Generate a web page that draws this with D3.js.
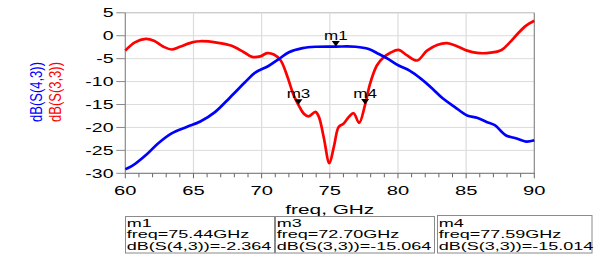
<!DOCTYPE html>
<html><head><meta charset="utf-8">
<script src="https://cdn.jsdelivr.net/npm/d3@7"></script>
<style>body{margin:0;background:#fff}svg{display:block}text{font-family:"Liberation Sans",Arial,sans-serif}</style>
</head><body>
<svg id="c" width="608" height="263"></svg>
<script>
// ---- data ----
const s43Freq = [60.0,60.5,61.6,62.4,63.4,64.5,65.5,66.6,67.7,68.8,69.5,70.5,71.25,72.0,73.0,74.0,75.44,76.9,77.85,78.6,79.3,80.05,80.85,81.7,82.55,83.3,84.15,85.07,85.8,86.5,87.1,87.9,88.7,89.4,90.0];
const s43dB   = [-29.1,-28.4,-25.8,-23.5,-21.3,-19.9,-18.7,-16.6,-13.4,-10.1,-8.1,-6.6,-5.1,-3.6,-2.7,-2.4,-2.364,-2.4,-2.9,-4.0,-5.1,-6.5,-7.6,-9.4,-11.6,-13.7,-15.5,-17.4,-17.9,-18.8,-19.5,-21.7,-22.4,-23.1,-22.8];
const s33Freq = [60.0,60.7,61.5,62.1,62.8,63.4,64.0,64.9,65.5,66.7,67.8,68.7,69.3,69.9,70.4,70.9,71.4,71.9,72.35,72.7,73.1,73.45,73.95,74.2,74.55,74.97,75.3,75.65,76.0,76.4,76.75,77.15,77.59,77.95,78.45,78.95,79.45,80.05,80.67,81.4,82.13,82.87,83.6,84.33,85.07,85.8,86.8,87.6,88.2,88.8,89.4,90.0];
const s33dB   = [-3.25,-1.45,-0.7,-1.1,-2.4,-3.0,-2.4,-1.45,-1.2,-1.5,-2.2,-3.6,-4.6,-4.5,-3.8,-4.1,-5.4,-9.0,-13.0,-15.064,-17.0,-17.6,-16.6,-17.7,-22.1,-27.8,-24.2,-19.9,-19.2,-17.7,-16.9,-19.0,-15.014,-10.5,-6.5,-4.7,-3.7,-3.1,-4.3,-5.4,-3.25,-2.0,-1.6,-2.3,-3.25,-3.75,-3.7,-3.1,-1.45,0.5,2.2,3.25];
const xTicks = [60,65,70,75,80,85,90];
const yTicks = [5,0,-5,-10,-15,-20,-25,-30];
const markerNames = ["m1","m3","m4"];
const markerFreq  = [75.44,72.70,77.59];
const markerVal   = [-2.364,-15.064,-15.014];
const markerTrace = ["dB(S(4,3))","dB(S(3,3))","dB(S(3,3))"];
const markerFreqText = ["75.44GHz","72.70GHz","77.59GHz"];
const markerValText  = ["-2.364","-15.064","-15.014"];

// ---- layout ----
const svg = d3.select("#c");
const x = d3.scaleLinear().domain([60,90]).range([125.3,534.3]);
const y = d3.scaleLinear().domain([-30,5]).range([173.3,12.8]);
const SX = 1.57;
function txt(g, s, px, py, size, anchor, color, sx){
  return g.append("text").attr("transform",`translate(${px},${py}) scale(${sx||SX},1)`)
    .attr("text-anchor",anchor).attr("font-size",size).attr("fill",color||"#000").text(s);
}

// grid
const grid = svg.append("g");
grid.selectAll("line.h").data(yTicks).join("line")
  .attr("x1",x(60)).attr("x2",x(90)).attr("y1",d=>y(d)).attr("y2",d=>y(d))
  .attr("stroke",d=>d===5?"#b8b8b8":"#dcdcdc").attr("stroke-width",1);
grid.selectAll("line.v").data(xTicks.slice(1,-1)).join("line")
  .attr("x1",d=>x(d)).attr("x2",d=>x(d)).attr("y1",y(5)).attr("y2",y(-30))
  .attr("stroke","#dcdcdc").attr("stroke-width",1.2);

// frame
svg.append("path").attr("d",`M${x(60)},${y(5)}V${y(-30)}H${x(90)}V${y(5)}`)
  .attr("fill","none").attr("stroke","#8a8a8a").attr("stroke-width",1.2);

// x ticks
svg.append("g").selectAll("line").data(d3.range(60,91,1)).join("line")
  .attr("x1",d=>x(d)).attr("x2",d=>x(d)).attr("y1",y(-30)).attr("y2",d=>y(-30)+(d%5===0?5:4))
  .attr("stroke","#666").attr("stroke-width",1);
// y ticks
svg.append("g").selectAll("line").data(yTicks).join("line")
  .attr("x1",x(60)-9).attr("x2",x(60)).attr("y1",d=>y(d)).attr("y2",d=>y(d))
  .attr("stroke","#888").attr("stroke-width",1);

const lab = svg.append("g");
xTicks.forEach(t=>txt(lab,String(t),x(t),194.5,13,"middle","#000",1.55));
yTicks.forEach(t=>txt(lab,String(t),113.5,y(t)+4.6,13,"end","#000",1.5));
txt(lab,"freq, GHz",x(75),213.5,13,"middle","#000",1.6);

// y titles
svg.append("text").attr("transform","translate(41.5,92) scale(1.3,1) rotate(-90)")
  .attr("text-anchor","middle").attr("font-size",13).attr("fill","#0000ff").text("dB(S(4,3))");
svg.append("text").attr("transform","translate(60.5,92) scale(1.3,1) rotate(-90)")
  .attr("text-anchor","middle").attr("font-size",13).attr("fill","#ff0000").text("dB(S(3,3))");

// curves
const line = d3.line().x(d=>x(d[0])).y(d=>y(d[1])).curve(d3.curveCatmullRom.alpha(0.5));
svg.append("path").datum(s33Freq.map((f,i)=>[f,s33dB[i]]))
  .attr("d",line).attr("fill","none").attr("stroke","#ff0000").attr("stroke-width",2.7).attr("stroke-linejoin","round");
svg.append("path").datum(s43Freq.map((f,i)=>[f,s43dB[i]]))
  .attr("d",line).attr("fill","none").attr("stroke","#0000ff").attr("stroke-width",2.7).attr("stroke-linejoin","round");

// markers
markerNames.forEach((m,i)=>{
  const px = x(markerFreq[i]), py = y(markerVal[i]);
  svg.append("path").attr("d",`M${px},${py}L${px-4},${py-5.5}L${px+4},${py-5.5}Z`).attr("fill","#000");
  txt(svg,m,px,py-7,12,"middle","#000",1.42);
});

// marker boxes
const boxX = [125,275,437];
const boxW = [150,160,155.5];
const boxTop = [216,216,215];
markerNames.forEach((m,i)=>{
  const g = svg.append("g");
  g.append("rect").attr("x",boxX[i]+0.5).attr("y",boxTop[i]+0.5).attr("width",boxW[i]-1).attr("height",252.5-boxTop[i])
    .attr("fill","#fff").attr("stroke","#8a8a8a").attr("stroke-width",1);
  const lx = boxX[i]+1.7;
  txt(g,m,lx,226.6,10.3,"start","#000",1.75);
  txt(g,"freq="+markerFreqText[i],lx,238.1,10.3,"start","#000",1.75);
  txt(g,markerTrace[i]+"="+markerValText[i],lx,249.6,10.3,"start","#000",1.75);
});
</script>
</body></html>
